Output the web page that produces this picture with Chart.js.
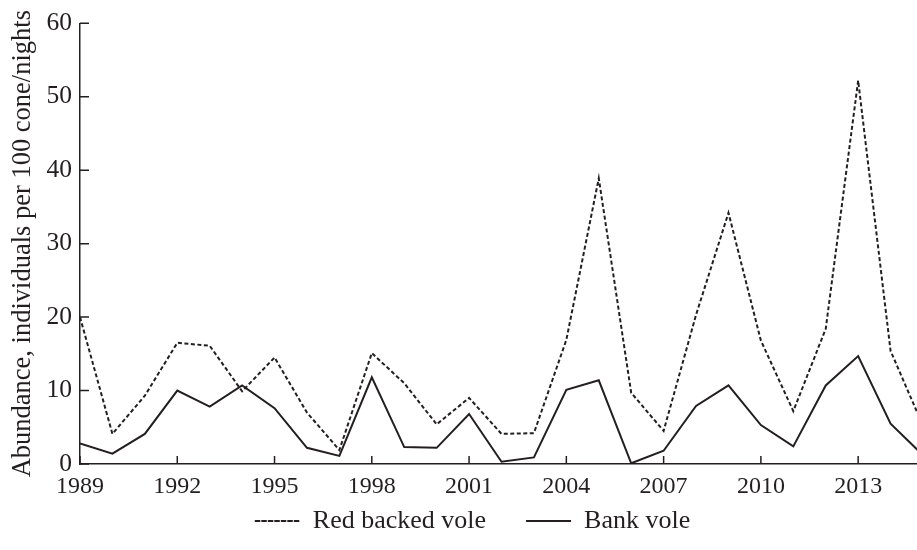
<!DOCTYPE html>
<html>
<head>
<meta charset="utf-8">
<script src="https://cdn.jsdelivr.net/npm/chart.js@4"></script>
<style>
  html, body { margin: 0; padding: 0; background: #fff; overflow: hidden; }
</style>
</head>
<body>
<canvas id="myChart" width="925" height="550"></canvas>
<script>
  // Data
  var years = [1989, 1990, 1991, 1992, 1993, 1994, 1995, 1996, 1997, 1998, 1999, 2000, 2001, 2002,
               2003, 2004, 2005, 2006, 2007, 2008, 2009, 2010, 2011, 2012, 2013, 2014, 2015];
  var redBacked = [20.0, 4.1, 9.3, 16.5, 16.1, 9.9, 14.5, 7.0, 1.9, 15.1, 11.0, 5.4, 9.0, 4.1,
                   4.2, 16.9, 38.9, 9.7, 4.5, 20.3, 34.2, 16.8, 7.2, 18.4, 52.2, 15.4, 5.2];
  var bankVole = [2.8, 1.4, 4.1, 10.0, 7.8, 10.7, 7.6, 2.2, 1.1, 11.8, 2.3, 2.2, 6.8, 0.3,
                  0.9, 10.1, 11.4, 0.1, 1.8, 7.9, 10.7, 5.3, 2.4, 10.7, 14.7, 5.5, 1.2];
  var xTicks = [1989, 1992, 1995, 1998, 2001, 2004, 2007, 2010, 2013];
  var yTicks = [0, 10, 20, 30, 40, 50, 60];

  var ink = '#231f20';
  var serif = "'Liberation Serif', 'DejaVu Serif', serif";

  function points(vals) {
    return years.map(function (y, i) { return { x: y, y: vals[i] }; });
  }

  // tick marks pointing into the plot
  var innerTicks = {
    id: 'innerTicks',
    afterDatasetsDraw: function (chart) {
      var ctx = chart.ctx, xs = chart.scales.x, ys = chart.scales.y;
      ctx.save();
      ctx.strokeStyle = ink;
      ctx.lineWidth = 1.5;
      ctx.beginPath();
      xTicks.forEach(function (v) {
        var px = xs.getPixelForValue(v);
        ctx.moveTo(px, ys.bottom);
        ctx.lineTo(px, ys.bottom - 8);
      });
      yTicks.forEach(function (v) {
        var py = ys.getPixelForValue(v);
        ctx.moveTo(xs.left, py);
        ctx.lineTo(xs.left + 9, py);
      });
      ctx.stroke();
      ctx.restore();
    }
  };

  var ctx = document.getElementById('myChart').getContext('2d');

  var myChart = new Chart(ctx, {
    type: 'line',
    data: {
      datasets: [{
        label: 'Red backed vole',
        data: points(redBacked),
        borderColor: ink,
        backgroundColor: 'rgba(0,0,0,0)',
        borderWidth: 2,
        borderDash: [4, 2.5],
        pointRadius: 0,
        tension: 0
      }, {
        label: 'Bank vole',
        data: points(bankVole),
        borderColor: ink,
        backgroundColor: 'rgba(0,0,0,0)',
        borderWidth: 2,
        pointRadius: 0,
        tension: 0
      }]
    },
    options: {
      responsive: false,
      animation: false,
      devicePixelRatio: 1,
      layout: { padding: { left: 22, right: 2, top: 12, bottom: 6 } },
      plugins: {
        legend: {
          position: 'bottom',
          labels: {
            boxWidth: 45,
            boxHeight: 0,
            padding: 40,
            color: ink,
            font: { family: serif, size: 26 }
          }
        },
        tooltip: { enabled: false }
      },
      scales: {
        x: {
          type: 'linear',
          min: 1989,
          max: 2015,
          afterBuildTicks: function (scale) {
            scale.ticks = xTicks.map(function (v) { return { value: v }; });
          },
          afterFit: function (scale) { scale.height = 4; },
          grid: { display: false, drawTicks: false },
          border: { display: true, color: ink, width: 1.5 },
          ticks: {
            mirror: true,   // no clipping to the thin axis box; negative padding puts labels below
            padding: -37,
            maxRotation: 0,
            autoSkip: false,
            color: ink,
            font: { family: serif, size: 24 },
            callback: function (v) { return String(v); }
          }
        },
        y: {
          min: 0,
          max: 60,
          afterBuildTicks: function (scale) {
            scale.ticks = yTicks.map(function (v) { return { value: v }; });
          },
          afterFit: function (scale) { scale.width = 58; },
          grid: { display: false, drawTicks: false },
          border: { display: true, color: ink, width: 1.5 },
          ticks: {
            padding: 8,
            color: ink,
            font: { family: serif, size: 25.5 }
          },
          title: {
            display: true,
            text: 'Abundance, individuals per 100 cone/nights',
            color: ink,
            font: { family: serif, size: 26.5 },
            padding: { top: -15, bottom: 0 }
          }
        }
      }
    },
    plugins: [innerTicks]
  });
</script>
</body>
</html>
